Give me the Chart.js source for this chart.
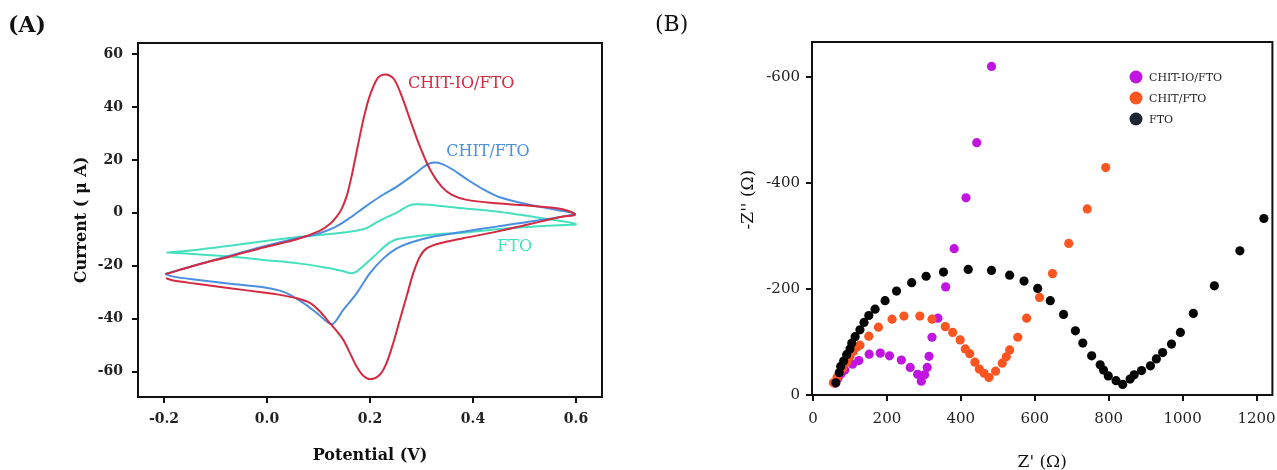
<!DOCTYPE html>
<html>
<head>
<meta charset="utf-8">
<script src="https://cdn.jsdelivr.net/npm/chart.js@4.4.1/dist/chart.umd.min.js"></script>
<style>
  body { margin: 0; background: #fff; width: 1277px; height: 470px; overflow: hidden; position: relative; font-family: 'DejaVu Serif', serif; }
  #wrapA { position: absolute; left: 0; top: 0; width: 640px; height: 470px; }
  #wrapB { position: absolute; left: 640px; top: 0; width: 637px; height: 470px; }
  .panel { position: absolute; top: 11px; font-size: 22px; color: #111; }
</style>
</head>
<body>
<div id="wrapA"><canvas id="cvChart"></canvas></div>
<div id="wrapB"><canvas id="eisChart"></canvas></div>
<div class="panel" style="left:8px;font-weight:bold">(A)</div>
<div class="panel" style="left:655px">(B)</div>

<script>
// ---- (A) cyclic voltammetry ----
const cvSeries = ['CHIT-IO/FTO', 'CHIT/FTO', 'FTO'];
const cvColors = ['#d42a40', '#4a8fe0', '#45e0bd'];

const ioFtoV = [-0.196, -0.137, -0.072, -0.007, 0.058, 0.103, 0.122, 0.135, 0.145, 0.155, 0.165, 0.176, 0.188, 0.200, 0.216, 0.231, 0.247, 0.262, 0.278, 0.297, 0.317, 0.339, 0.359, 0.388, 0.446, 0.511, 0.563, 0.588, 0.598,
                0.575, 0.511, 0.446, 0.381, 0.336, 0.310, 0.297, 0.284, 0.271, 0.258, 0.245, 0.232, 0.219, 0.201, 0.187, 0.174, 0.161, 0.148, 0.135, 0.122, 0.103, 0.084, 0.058, 0.025, -0.007, -0.072, -0.137, -0.182, -0.196];
const ioFtoI = [-23.1, -19.7, -16.5, -13.1, -10.0, -6.7, -4.2, -1.5, 1.5, 6.5, 14.5, 25.0, 36.0, 44.5, 51.2, 52.3, 50.4, 43.9, 35.1, 25.0, 16.2, 9.9, 6.8, 4.9, 3.6, 2.7, 1.7, 0.5, -0.8,
                -1.4, -4.2, -7.1, -9.6, -11.5, -13.4, -16.5, -22.8, -31.6, -40.4, -49.3, -56.8, -61.2, -62.9, -61.6, -58.1, -53.0, -48.0, -44.6, -41.7, -37.3, -34.1, -32.3, -31.0, -30.1, -28.5, -26.8, -25.6, -24.7];

const chitFtoV = [-0.198, -0.137, -0.072, -0.007, 0.058, 0.097, 0.131, 0.160, 0.187, 0.219, 0.252, 0.284, 0.310, 0.323, 0.339, 0.362, 0.388, 0.420, 0.452, 0.511, 0.563, 0.598,
                  0.511, 0.446, 0.381, 0.317, 0.284, 0.252, 0.226, 0.200, 0.174, 0.148, 0.126, 0.097, 0.071, 0.045, 0.025, -0.007, -0.072, -0.137, -0.182, -0.198];
const chitFtoI = [-23.1, -19.7, -16.2, -12.7, -9.6, -8.0, -5.5, -2.0, 1.8, 6.1, 9.9, 14.3, 18.1, 19.0, 18.5, 16.2, 12.7, 8.9, 5.9, 3.0, 1.1, -0.4,
                  -3.3, -5.2, -7.1, -9.2, -10.9, -13.4, -17.2, -22.8, -30.4, -36.7, -42.1, -37.9, -34.1, -31.0, -29.4, -28.1, -26.8, -25.3, -24.1, -23.1];

const ftoV = [-0.195, -0.137, -0.072, -0.007, 0.058, 0.122, 0.187, 0.219, 0.252, 0.283, 0.381, 0.446, 0.537, 0.600,
              0.543, 0.446, 0.381, 0.317, 0.252, 0.232, 0.213, 0.187, 0.174, 0.163, 0.148, 0.122, 0.058, -0.007, -0.072, -0.137, -0.195];
const ftoI = [-15.0, -14.0, -12.4, -10.7, -9.2, -8.0, -6.2, -2.9, 0.1, 3.2, 1.7, 0.5, -2.1, -4.2,
              -4.9, -6.2, -7.5, -8.3, -10.0, -12.1, -15.5, -20.1, -22.2, -22.8, -22.1, -20.9, -19.0, -17.8, -16.5, -15.6, -15.0];

const potentialTicks = [-0.2, 0.0, 0.2, 0.4, 0.6];
const currentTicks = [-60, -40, -20, 0, 20, 40, 60];
// where each curve name sits (data units)
const tagV = [0.274, 0.348, 0.447];
const tagI = [48.7, 23.0, -12.9];

// ---- (B) Nyquist plot ----
const eisSeries = ['CHIT-IO/FTO', 'CHIT/FTO', 'FTO'];
const eisColors = ['#c014e0', '#fb5522', '#050505'];
const eisLegendColors = ['#c014e0', '#fb5522', '#1e2533'];

const ioZre = [60, 68, 76, 86, 107, 124, 152, 182, 207, 239, 263, 283, 293, 302, 309, 314, 322, 338, 359, 382, 414, 443, 483];
const ioZim = [22, 32, 40, 47, 58, 65, 77, 79, 74, 66, 52, 39, 26, 38, 52, 73, 109, 145, 204, 276, 372, 476, 620];

const chitZre = [55, 65, 72, 80, 91, 100, 109, 118, 127, 151, 177, 214, 246, 289, 322, 358, 378, 398, 412, 424, 438, 450, 463, 476, 494, 512, 523, 532, 554, 578, 613, 648, 692, 742, 792];
const chitZim = [23, 33, 42, 50, 62, 72, 82, 90, 94, 111, 128, 143, 149, 149, 143, 129, 118, 104, 87, 78, 62, 49, 41, 33, 45, 60, 72, 85, 109, 145, 184, 229, 286, 351, 429];

const ftoZre = [62, 71, 75, 83, 91, 100, 105, 114, 127, 138, 151, 168, 195, 226, 267, 306, 353, 420, 483, 532, 571, 608, 642, 678, 710, 730, 754, 777, 786, 799, 820, 838, 858, 869, 889, 913, 929, 946, 970, 994, 1029, 1086, 1155, 1220];
const ftoZim = [23, 42, 54, 64, 76, 87, 98, 110, 123, 137, 150, 162, 178, 196, 212, 224, 232, 237, 235, 226, 215, 201, 178, 152, 121, 98, 74, 57, 47, 36, 27, 20, 30, 38, 46, 55, 68, 80, 96, 118, 154, 206, 272, 333];

const zreTicks = [0, 200, 400, 600, 800, 1000, 1200];
const zimTicks = [0, 200, 400, 600];

const FONT = "'DejaVu Serif', serif";

function pairs(xs, ys) {
    return xs.map((v, i) => ({ x: v, y: ys[i] }));
}

// box round the plot area
const framePlugin = {
    id: 'frame',
    afterDraw(chart) {
        const { ctx, chartArea: a } = chart;
        ctx.save();
        ctx.strokeStyle = '#111';
        ctx.lineWidth = 2;
        ctx.strokeRect(a.left, a.top, a.right - a.left, a.bottom - a.top);
        ctx.restore();
    }
};

const curveTags = {
    id: 'curveTags',
    afterDatasetsDraw(chart) {
        const { ctx, scales: { x, y } } = chart;
        ctx.save();
        ctx.font = '16px ' + FONT;
        ctx.textBaseline = 'middle';
        cvSeries.forEach((name, i) => {
            ctx.fillStyle = cvColors[i];
            ctx.fillText(name, x.getPixelForValue(tagV[i]), y.getPixelForValue(tagI[i]));
        });
        ctx.restore();
    }
};

const dotLegend = {
    id: 'dotLegend',
    afterDraw(chart) {
        const { ctx, chartArea: a } = chart;
        ctx.save();
        ctx.font = '11px ' + FONT;
        ctx.textBaseline = 'middle';
        chart.data.datasets.forEach((ds, i) => {
            const cy = a.top + 35 + i * 21;
            const cx = a.left + 324;
            ctx.fillStyle = eisLegendColors[i];
            ctx.beginPath();
            ctx.arc(cx, cy, 6.5, 0, Math.PI * 2);
            ctx.fill();
            ctx.fillStyle = '#222';
            ctx.fillText(ds.label, cx + 13, cy + 1);
        });
        ctx.restore();
    }
};

function axisBase(ticksArr, fmt, font, pad) {
    return {
        type: 'linear',
        afterBuildTicks: s => { s.ticks = ticksArr.map(v => ({ value: v })); },
        ticks: { callback: fmt, font: font, color: '#222', padding: pad, maxRotation: 0, autoSkip: false },
        grid: { drawOnChartArea: false, tickLength: 6, lineWidth: 2, color: '#111' },
        border: { display: true, width: 2, color: '#111' }
    };
}

// fixed axis band, and no extra room for the end labels
function fixSize(prop, size) {
    return s => {
        s[prop] = size;
        s.paddingLeft = 0; s.paddingRight = 0; s.paddingTop = 0; s.paddingBottom = 0;
    };
}

document.addEventListener('DOMContentLoaded', function() {
    Chart.defaults.font.family = FONT;

    // ==========================================
    // (A) CV loops
    // ==========================================
    const tickFontA = { family: FONT, size: 14, weight: 'bold' };
    const cvX = axisBase(potentialTicks, v => v.toFixed(1), tickFontA, 8);
    cvX.min = -0.2505; cvX.max = 0.6505;
    cvX.afterFit = fixSize('height', 73);
    cvX.title = { display: true, text: 'Potential (V)', color: '#111', font: { family: FONT, size: 16, weight: 'bold' }, padding: { top: 0, bottom: 5 } };

    const cvY = axisBase(currentTicks, v => String(v), tickFontA, 9);
    cvY.min = -69.6; cvY.max = 64.2;
    cvY.afterFit = fixSize('width', 138);
    cvY.title = { display: true, text: 'Current ( μ A)', color: '#111', font: { family: FONT, size: 16, weight: 'bold' }, padding: { top: 72, bottom: 0 } };

    new Chart(document.getElementById('cvChart'), {
        type: 'scatter',
        data: {
            datasets: [
                { label: cvSeries[0], data: pairs(ioFtoV, ioFtoI), borderColor: cvColors[0] },
                { label: cvSeries[1], data: pairs(chitFtoV, chitFtoI), borderColor: cvColors[1] },
                { label: cvSeries[2], data: pairs(ftoV, ftoI), borderColor: cvColors[2] }
            ].map(d => Object.assign(d, { showLine: true, pointRadius: 0, borderWidth: 2, tension: 0.3, fill: false }))
        },
        options: {
            responsive: true, maintainAspectRatio: false, animation: false,
            layout: { padding: { top: 43, right: 38, left: 0, bottom: 0 } },
            scales: { x: cvX, y: cvY },
            plugins: { legend: { display: false }, tooltip: { enabled: false } }
        },
        plugins: [curveTags, framePlugin]
    });

    // ==========================================
    // (B) Nyquist
    // ==========================================
    const tickFontB = { family: FONT, size: 15 };
    const zX = axisBase(zreTicks, v => String(v), tickFontB, 9);
    zX.min = -2.7; zX.max = 1243;
    zX.afterFit = fixSize('height', 75);
    zX.title = { display: true, text: "Z' (Ω)", color: '#111', font: { family: FONT, size: 17, lineHeight: 0.9 }, padding: { top: 0, bottom: 0 } };

    const zY = axisBase(zimTicks, v => (v === 0 ? '0' : '-' + v), tickFontB, 6);
    zY.min = 0; zY.max = 666;
    zY.afterFit = fixSize('width', 172);
    zY.title = { display: true, text: "       -Z'' (Ω)", color: '#111', font: { family: FONT, size: 17 }, padding: { top: 98, bottom: 0 } };

    new Chart(document.getElementById('eisChart'), {
        type: 'scatter',
        data: {
            datasets: [
                { label: eisSeries[0], data: pairs(ioZre, ioZim), backgroundColor: eisColors[0], order: 3 },
                { label: eisSeries[1], data: pairs(chitZre, chitZim), backgroundColor: eisColors[1], order: 2 },
                { label: eisSeries[2], data: pairs(ftoZre, ftoZim), backgroundColor: eisColors[2], order: 1 }
            ].map(d => Object.assign(d, { pointRadius: 4.6, pointBorderWidth: 0, borderColor: 'transparent' }))
        },
        options: {
            responsive: true, maintainAspectRatio: false, animation: false,
            layout: { padding: { top: 42, right: 2, left: 0, bottom: 0 } },
            scales: { x: zX, y: zY },
            plugins: { legend: { display: false }, tooltip: { enabled: false } }
        },
        plugins: [dotLegend, framePlugin]
    });
});
</script>
</body>
</html>
